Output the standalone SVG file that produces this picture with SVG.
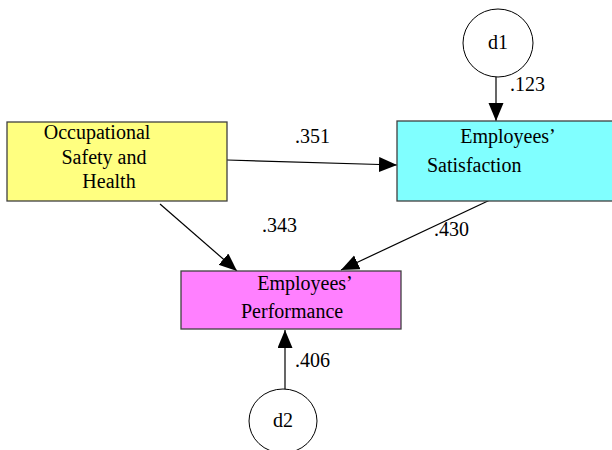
<svg xmlns="http://www.w3.org/2000/svg" width="612" height="450" viewBox="0 0 612 450">
<style>
.t{font-family:'Liberation Serif','Times New Roman',serif;font-size:20px;fill:#000}
.box{stroke:#404040;stroke-width:1.3}
.circ{fill:#fff;stroke:#000;stroke-width:1}
.conn{stroke:#000;stroke-width:1.2;fill:none}
</style>
<defs>
<marker id="ah" markerUnits="userSpaceOnUse" markerWidth="20" markerHeight="16" refX="18" refY="7.5" orient="auto">
<path d="M0,0 L18,7.5 L0,15 Z" fill="#000"/>
</marker>
</defs>
<rect width="612" height="450" fill="#fff"/>
<g id="connectors">
<line class="conn" x1="227" y1="160" x2="397" y2="165" marker-end="url(#ah)"/>
<line class="conn" x1="160" y1="204" x2="237" y2="271" marker-end="url(#ah)"/>
<line class="conn" x1="490" y1="200" x2="341" y2="270" marker-end="url(#ah)"/>
<line class="conn" x1="496" y1="76" x2="496" y2="121" marker-end="url(#ah)"/>
<line class="conn" x1="285" y1="389" x2="285" y2="330" marker-end="url(#ah)"/>
<g class="t">
<text x="295" y="143">.351</text>
<text x="262" y="232">.343</text>
<text x="434" y="236">.430</text>
<text x="510" y="91">.123</text>
<text x="295" y="367">.406</text>
</g>
</g>
<g id="osh">
<rect class="box" x="7" y="122" width="220" height="79" fill="#ffff80"/>
<g class="t" text-anchor="middle">
<text x="97" y="139">Occupational</text>
<text x="104" y="164">Safety and</text>
<text x="109" y="188">Health</text>
</g>
</g>
<g id="satisfaction">
<rect class="box" x="397" y="121" width="220" height="80" fill="#80ffff"/>
<g class="t">
<text x="508" y="143" text-anchor="middle">Employees’</text>
<text x="427" y="172">Satisfaction</text>
</g>
</g>
<g id="performance">
<rect class="box" x="181" y="271" width="220" height="58" fill="#ff80ff"/>
<g class="t">
<text x="305" y="290" text-anchor="middle">Employees’</text>
<text x="241" y="318">Performance</text>
</g>
</g>
<g id="d1">
<ellipse class="circ" cx="498" cy="43" rx="35" ry="34"/>
<text class="t" x="498" y="49" text-anchor="middle">d1</text>
</g>
<g id="d2">
<ellipse class="circ" cx="283" cy="421" rx="34" ry="32"/>
<text class="t" x="283" y="427" text-anchor="middle">d2</text>
</g>
</svg>
